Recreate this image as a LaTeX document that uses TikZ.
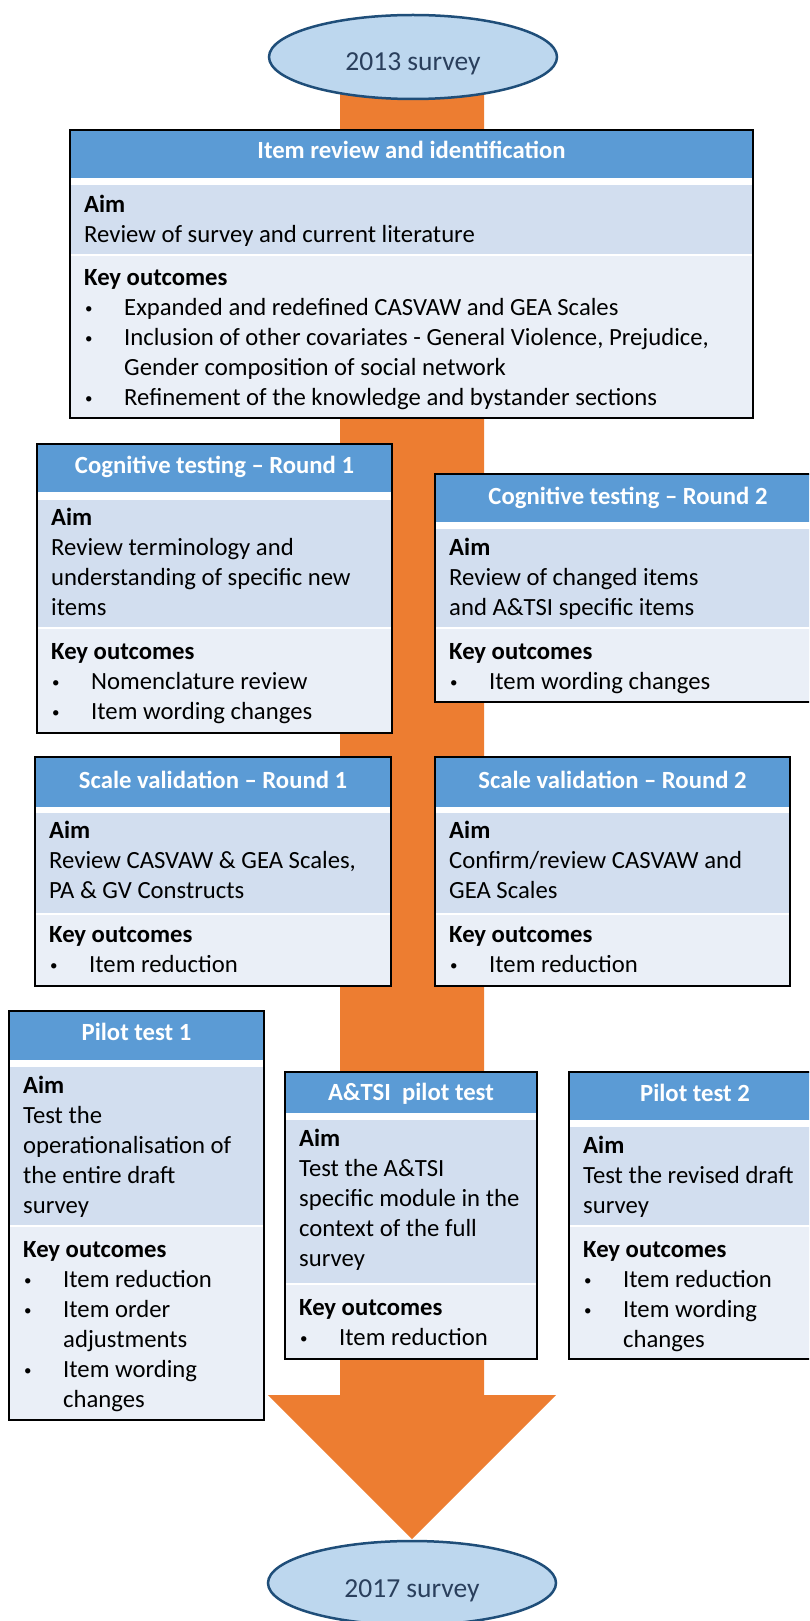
\documentclass[tikz,border=0pt]{standalone}
\usepackage{fontspec}
\setmainfont{Carlito}
\usetikzlibrary{shapes.geometric}

\definecolor{headblue}{HTML}{5B9BD5}
\definecolor{aimblue}{HTML}{D2DEEF}
\definecolor{keyblue}{HTML}{EAEFF7}
\definecolor{flow}{HTML}{ED7D31}
\definecolor{survfill}{HTML}{BDD7EE}
\definecolor{survline}{HTML}{1F4E79}
\definecolor{survtext}{HTML}{2A3F5C}

\newcommand{\bul}{\makebox[40pt][l]{\hspace{1pt}\raisebox{2pt}{\fontsize{15}{15}\selectfont\textbullet}}}
\newcommand{\cont}{\hspace*{40pt}}

\tikzset{
  survey/.style={ellipse, draw=survline, line width=2.5pt, fill=survfill,
    minimum width=288pt, minimum height=84pt, inner sep=0pt, text=survtext,
    font=\fontsize{27.5}{33}\selectfont, text height=28pt, text depth=0pt},
  sheet/.style={fill=white},
  frame/.style={draw=black, line width=1.5pt},
  headtext/.style={text=white, inner sep=0pt,
    font=\fontsize{24.7}{30}\selectfont\bfseries, text height=17pt, text depth=5pt},
  bodytext/.style={anchor=north west, align=left, inner sep=0pt,
    font=\fontsize{24.7}{30}\selectfont},
}

\begin{document}
\begin{tikzpicture}[x=1pt,y=-1pt]
\useasboundingbox (0,0) rectangle (809,1621);
\clip (0,0) rectangle (809,1621);

% big arrow behind everything
\fill[flow] (340,80) -- (484,80) -- (484,1395) -- (556,1395) -- (412,1539)
  -- (268,1395) -- (340,1395) -- cycle;

\node[survey] (s2013) at (413,57) {2013 survey};
\node[survey] (s2017) at (412,1583) {2017 survey};

% item review and identification
\fill[sheet] (70,130) rectangle (753,418);
\fill[headblue] (70,130) rectangle (753,178);
\fill[aimblue] (70,185) rectangle (753,254);
\fill[keyblue] (70,256) rectangle (753,418);
\draw[frame] (70,130) rectangle (753,418);
\node[headtext] (revhead) at (411.5,153) {Item review and identification};
\node[bodytext] (revaim) at (84,191) {\strut\textbf{Aim}\\Review of survey and current literature};
\node[bodytext] (revkey) at (84,264) {\strut\textbf{Key outcomes}\\
  \bul Expanded and redefined CASVAW and GEA Scales\\
  \bul Inclusion of other covariates - General Violence, Prejudice,\\
  \cont Gender composition of social network\\
  \bul Refinement of the knowledge and bystander sections};

% cognitive testing 1
\fill[sheet] (37,444) rectangle (392,733);
\fill[headblue] (37,444) rectangle (392,492);
\fill[aimblue] (37,500) rectangle (392,627);
\fill[keyblue] (37,629) rectangle (392,733);
\draw[frame] (37,444) rectangle (392,733);
\node[headtext] (cog1head) at (214.5,467) {Cognitive testing – Round 1};
\node[bodytext] (cog1aim) at (51,504) {\strut\textbf{Aim}\\Review terminology and\\understanding of specific new\\items};
\node[bodytext] (cog1key) at (51,638) {\strut\textbf{Key outcomes}\\\bul Nomenclature review\\\bul Item wording changes};

% cognitive testing 2
\fill[sheet] (435,474) rectangle (821,702);
\fill[headblue] (435,474) rectangle (821,522);
\fill[aimblue] (435,529) rectangle (821,627);
\fill[keyblue] (435,629) rectangle (821,702);
\draw[frame] (435,474) rectangle (821,702);
\node[headtext] (cog2head) at (628,498) {Cognitive testing – Round 2};
\node[bodytext] (cog2aim) at (449,534) {\strut\textbf{Aim}\\Review of changed items\\and A\&TSI specific items};
\node[bodytext] (cog2key) at (449,638) {\strut\textbf{Key outcomes}\\\bul Item wording changes};

% scale validation 1
\fill[sheet] (35,757) rectangle (391,986);
\fill[headblue] (35,757) rectangle (391,807);
\fill[aimblue] (35,813) rectangle (391,913);
\fill[keyblue] (35,915) rectangle (391,986);
\draw[frame] (35,757) rectangle (391,986);
\node[headtext] (val1head) at (213,782) {Scale validation – Round 1};
\node[bodytext] (val1aim) at (49,817) {\strut\textbf{Aim}\\Review CASVAW \& GEA Scales,\\PA \& GV Constructs};
\node[bodytext] (val1key) at (49,921) {\strut\textbf{Key outcomes}\\\bul Item reduction};

% scale validation 2
\fill[sheet] (435,757) rectangle (790,986);
\fill[headblue] (435,757) rectangle (790,807);
\fill[aimblue] (435,813) rectangle (790,913);
\fill[keyblue] (435,915) rectangle (790,986);
\draw[frame] (435,757) rectangle (790,986);
\node[headtext] (val2head) at (612.5,782) {Scale validation – Round 2};
\node[bodytext] (val2aim) at (449,817) {\strut\textbf{Aim}\\Confirm/review CASVAW and\\GEA Scales};
\node[bodytext] (val2key) at (449,921) {\strut\textbf{Key outcomes}\\\bul Item reduction};

% pilot test 1
\fill[sheet] (9,1011) rectangle (264,1420);
\fill[headblue] (9,1011) rectangle (264,1060);
\fill[aimblue] (9,1067) rectangle (264,1225);
\fill[keyblue] (9,1227) rectangle (264,1420);
\draw[frame] (9,1011) rectangle (264,1420);
\node[headtext] (pil1head) at (136.5,1034) {Pilot test 1};
\node[bodytext] (pil1aim) at (23,1072) {\strut\textbf{Aim}\\Test the\\operationalisation of\\the entire draft\\survey};
\node[bodytext] (pil1key) at (23,1236) {\strut\textbf{Key outcomes}\\\bul Item reduction\\\bul Item order\\\cont adjustments\\\bul Item wording\\\cont changes};

% A&TSI pilot test
\fill[sheet] (285,1072) rectangle (537,1359);
\fill[headblue] (285,1072) rectangle (537,1113);
\fill[aimblue] (285,1120) rectangle (537,1283);
\fill[keyblue] (285,1285) rectangle (537,1359);
\draw[frame] (285,1072) rectangle (537,1359);
\node[headtext] (atsihead) at (411,1094) {A\&TSI\ \ pilot test};
\node[bodytext] (atsiaim) at (299,1125) {\strut\textbf{Aim}\\Test the A\&TSI\\specific module in the\\context of the full\\survey};
\node[bodytext] (atsikey) at (299,1294) {\strut\textbf{Key outcomes}\\\bul Item reduction};

% pilot test 2
\fill[sheet] (569,1072) rectangle (821,1359);
\fill[headblue] (569,1072) rectangle (821,1120);
\fill[aimblue] (569,1127) rectangle (821,1225);
\fill[keyblue] (569,1227) rectangle (821,1359);
\draw[frame] (569,1072) rectangle (821,1359);
\node[headtext] (pil2head) at (695,1095) {Pilot test 2};
\node[bodytext] (pil2aim) at (583,1132) {\strut\textbf{Aim}\\Test the revised draft\\survey};
\node[bodytext] (pil2key) at (583,1236) {\strut\textbf{Key outcomes}\\\bul Item reduction\\\bul Item wording\\\cont changes};
\end{tikzpicture}
\end{document}
